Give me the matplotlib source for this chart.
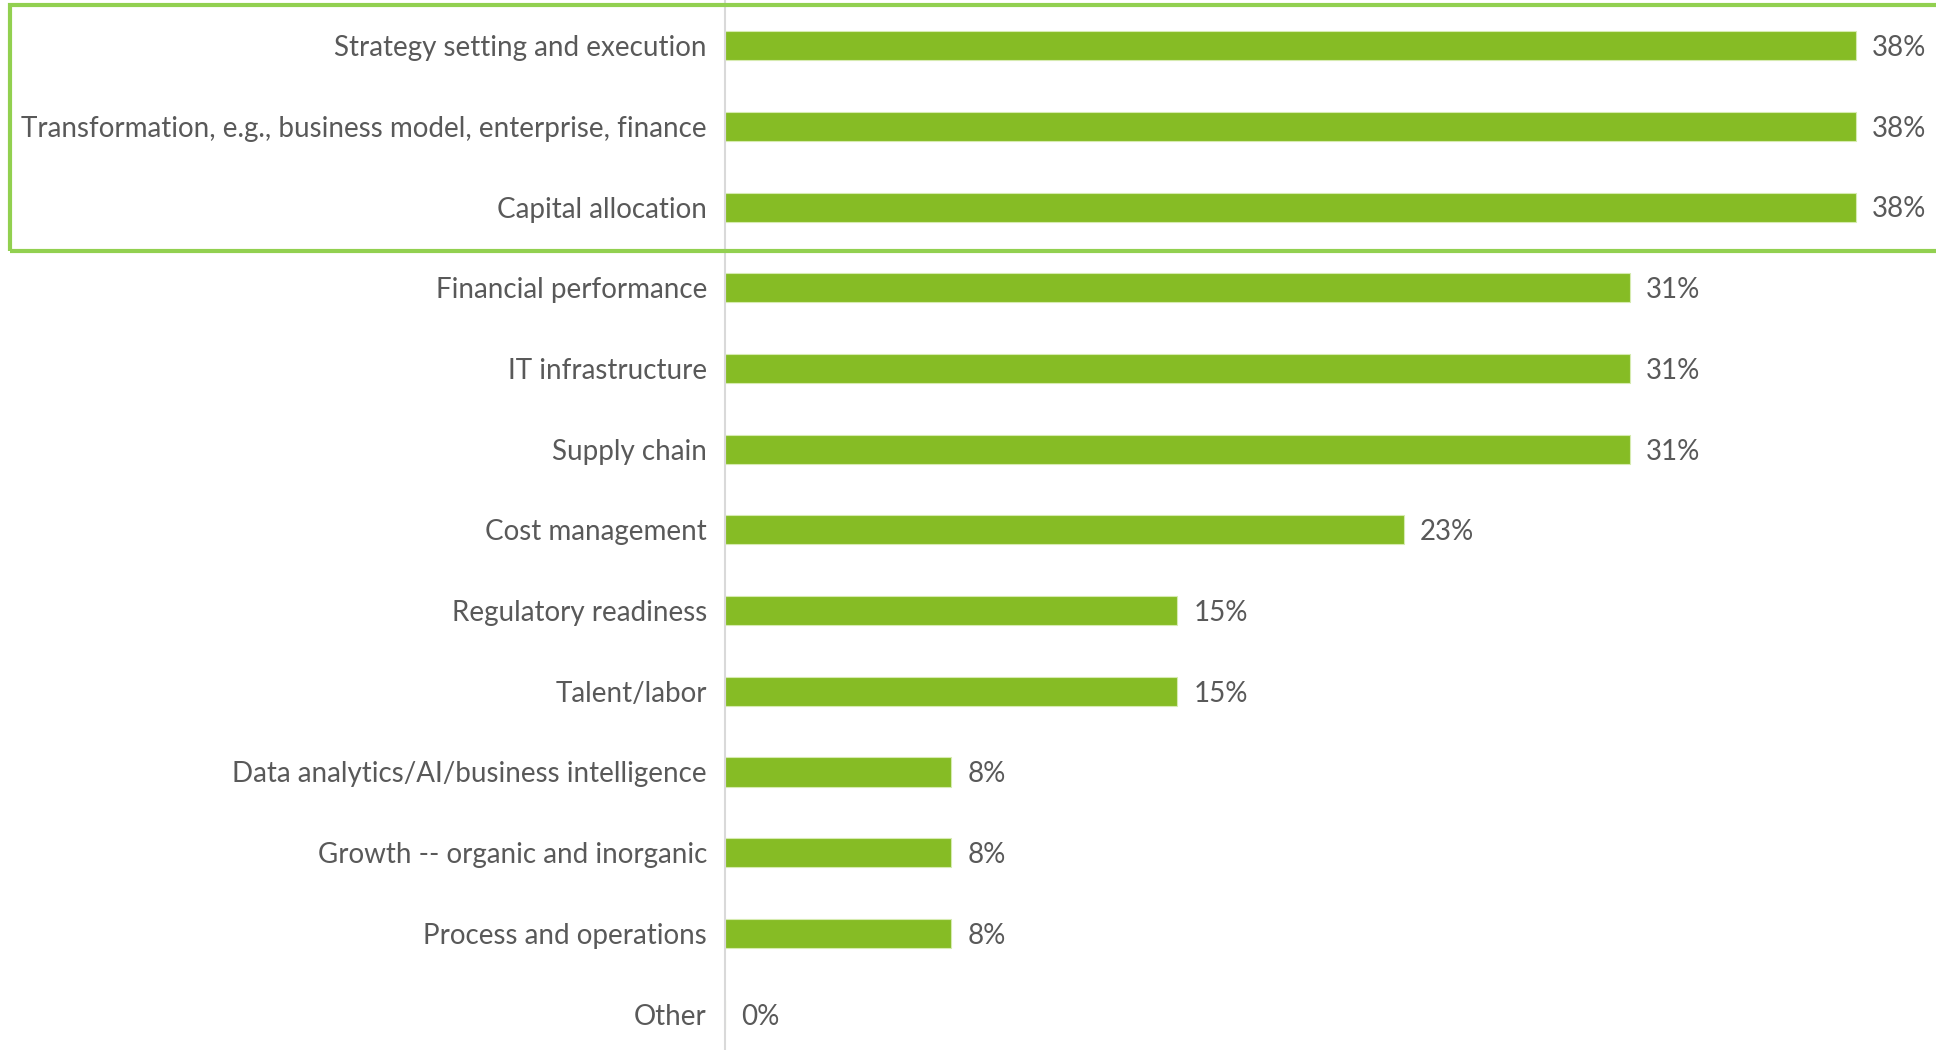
import matplotlib
matplotlib.use("Agg")
import matplotlib.pyplot as plt
from matplotlib.patches import Rectangle

categories = [
    "Strategy setting and execution",
    "Transformation, e.g., business model, enterprise, finance",
    "Capital allocation",
    "Financial performance",
    "IT infrastructure",
    "Supply chain",
    "Cost management",
    "Regulatory readiness",
    "Talent/labor",
    "Data analytics/AI/business intelligence",
    "Growth -- organic and inorganic",
    "Process and operations",
    "Other",
]
# share of respondents (percent)
values = [38.46, 38.46, 38.46, 30.77, 30.77, 30.77, 23.08, 15.38, 15.38, 7.69, 7.69, 7.69, 0.0]

BAR = "#86BC25"
TEXT = "#595959"
FONT = "Lato"
FS = 20

W, H = 1936, 1050
fig = plt.figure(figsize=(W / 100, H / 100), dpi=100)
ax = fig.add_axes([725 / W, 0, 1 - 725 / W, 1])

y = list(range(len(categories)))
ax.barh(y, values, height=0.36, color=BAR, edgecolor="#D6EBB0", linewidth=0.8, zorder=2)

ax.set_xlim(0, (W - 725) / 2940.6 * 100)
ax.set_ylim(12.445, -0.566)

for yi, v in zip(y, values):
    ax.text(v + 0.55, yi + 0.03, f"{v:.0f}%", va="center", ha="left",
            fontsize=FS, color=TEXT, family=FONT)

ax.set_yticks(y)
ax.set_yticklabels(categories, fontsize=FS, color=TEXT, family=FONT)
ax.tick_params(axis="y", length=0, pad=13)
ax.set_xticks([])
for s in ["top", "right", "bottom"]:
    ax.spines[s].set_visible(False)
ax.spines["left"].set_color("#D9D9D9")
ax.spines["left"].set_linewidth(1.5)

# highlight frame around the top three items
fig.patches.append(Rectangle((10 / W, 1 - 251 / H), 1.0, 246 / H,
                             transform=fig.transFigure, fill=False,
                             edgecolor="#92D050", linewidth=3, clip_on=False))

fig.savefig("out.png", dpi=100, facecolor="white")
